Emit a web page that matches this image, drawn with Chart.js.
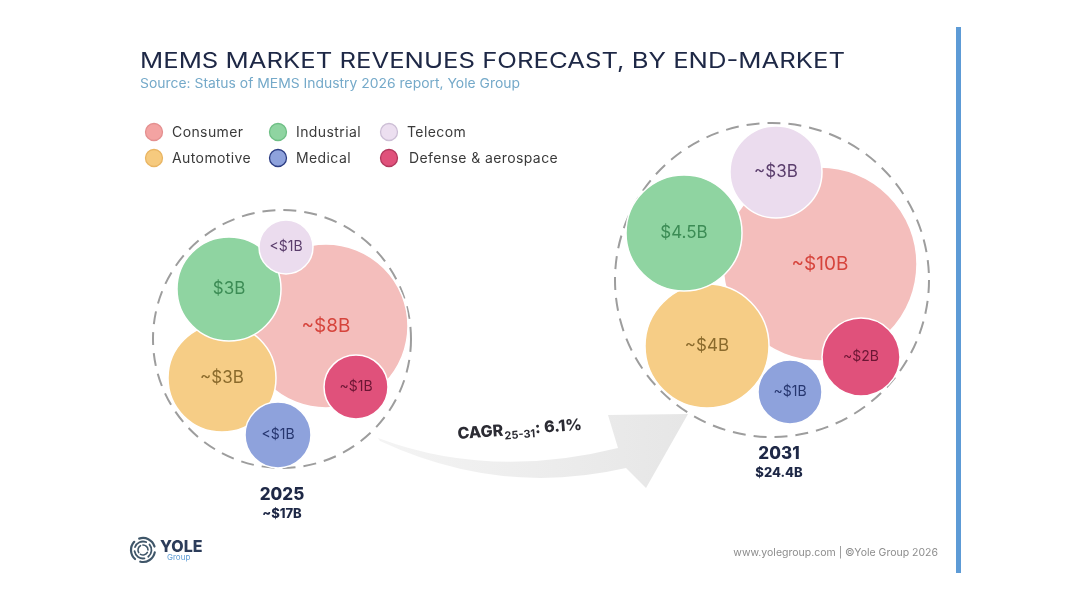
<!DOCTYPE html>
<html>
<head>
<meta charset="utf-8">
<script src="https://cdn.jsdelivr.net/npm/chart.js@4.4.1/dist/chart.umd.min.js"></script>
<style>
    html, body { margin: 0; padding: 0; background: #fff; }
    #wrap { position: relative; width: 1068px; height: 601px; }
</style>
</head>
<body>
<div id="wrap"><canvas id="memsChart" width="1068" height="601"></canvas></div>
<script>
// ---- data ----
const categories = ['Consumer', 'Industrial', 'Telecom', 'Automotive', 'Medical', 'Defense & aerospace'];
const years = ['2025', '2031'];
const values2025 = [8, 3, 0.8, 3, 0.8, 1];      // $B (estimates)
const values2031 = [10, 4.5, 3, 4, 1, 2];       // $B
const labels2025 = ['~$8B', '$3B', '<$1B', '~$3B', '<$1B', '~$1B'];
const labels2031 = ['~$10B', '$4.5B', '~$3B', '~$4B', '~$1B', '~$2B'];
const totals = ['~$17B', '$24.4B'];
const cagrText = '6.1%';

// ---- layout of the packed bubbles (chart units = canvas px) ----
const pack2025 = [[326, 326, 82], [229, 289, 52], [286, 247, 27], [222, 378, 54], [278, 435, 33], [356, 387, 32]];
const pack2031 = [[820, 264, 97], [684, 233, 58], [776, 172, 46], [707, 346, 62], [790, 392, 32], [861, 357, 39]];
const rings = [[282, 339, 129], [772, 280, 157]];
const drawRank = [6, 4, 3, 5, 2, 1]; // consumer at the back

// ---- styles ----
const FONT = 'Inter, "Open Sans", sans-serif';
const bubbleFill = ['#f4bebc', '#8fd4a1', '#ebdcee', '#f6cd86', '#8ea2dc', '#e0517b'];
const labelColor = ['#d6443c', '#3c8c55', '#5a3d6c', '#8a6a2c', '#26366f', '#6b1634'];
const legendFill = ['#f3a3a2', '#8fd4a1', '#ecdff0', '#f6ca7e', '#8ea2dc', '#e0517b'];
const legendBorder = ['#e49090', '#6fbf85', '#cdbfd6', '#e9b563', '#2c3d83', '#b3385d'];

const datasets = categories.map((cat, i) => ({
    label: cat,
    data: [
        { x: pack2025[i][0], y: pack2025[i][1], r: pack2025[i][2], v: values2025[i], t: labels2025[i] },
        { x: pack2031[i][0], y: pack2031[i][1], r: pack2031[i][2], v: values2031[i], t: labels2031[i] }
    ],
    backgroundColor: bubbleFill[i],
    borderColor: '#ffffff',
    borderWidth: 1.5,
    order: drawRank[i],
    clip: false
}));

// stretch text horizontally so it spans the given width (the original face is wider)
function fitText(ctx, text, x, y, width) {
    const w = ctx.measureText(text).width;
    ctx.save();
    ctx.translate(x, y);
    ctx.scale(width / w, 1);
    ctx.fillText(text, 0, 0);
    ctx.restore();
}

const backdrop = {
    id: 'backdrop',
    beforeDatasetsDraw(chart) {
        const { ctx, scales: { x, y } } = chart;
        ctx.save();
        // growth arrow
        const p = (a, b) => [x.getPixelForValue(a), y.getPixelForValue(b)];
        const grad = ctx.createLinearGradient(p(378, 0)[0], 0, p(688, 0)[0], 0);
        grad.addColorStop(0, '#f4f4f4');
        grad.addColorStop(1, '#e6e6e6');
        ctx.fillStyle = grad;
        ctx.beginPath();
        ctx.moveTo(...p(378, 438));
        ctx.quadraticCurveTo(...p(490, 480), ...p(618, 448));
        ctx.lineTo(...p(608, 415));
        ctx.lineTo(...p(688, 414));
        ctx.lineTo(...p(646, 488));
        ctx.lineTo(...p(626, 468));
        ctx.quadraticCurveTo(...p(500, 497), ...p(380, 441));
        ctx.closePath();
        ctx.fill();
        // dashed rings
        ctx.setLineDash([13, 8]);
        ctx.lineWidth = 2;
        ctx.strokeStyle = '#9d9d9d';
        rings.forEach(([cx, cy, r]) => {
            ctx.beginPath();
            ctx.arc(x.getPixelForValue(cx), y.getPixelForValue(cy), r, 0, Math.PI * 2);
            ctx.stroke();
        });
        ctx.restore();
    },
    afterDatasetsDraw(chart) {
        const { ctx } = chart;
        ctx.save();
        ctx.textAlign = 'center';
        ctx.textBaseline = 'middle';
        chart.data.datasets.forEach((ds, i) => {
            chart.getDatasetMeta(i).data.forEach((el, j) => {
                const r = ds.data[j].r;
                const size = r < 40 ? 14 : (r < 70 ? 17 : 19);
                ctx.font = `400 ${size}px ${FONT}`;
                ctx.fillStyle = labelColor[i];
                ctx.fillText(ds.data[j].t, el.x, el.y);
            });
        });
        ctx.restore();
    },
    afterDraw(chart) {
        const { ctx, scales: { x, y } } = chart;
        ctx.save();
        // title + source
        ctx.fillStyle = '#1e2846';
        ctx.font = `400 22px ${FONT}`;
        ctx.textBaseline = 'alphabetic';
        fitText(ctx, 'MEMS MARKET REVENUES FORECAST, BY END-MARKET', 140, 68, 705);
        ctx.fillStyle = '#74a9c9';
        ctx.font = `400 13px ${FONT}`;
        fitText(ctx, 'Source: Status of MEMS Industry 2026 report, Yole Group', 140, 88, 380);

        // legend
        const legCols = [154, 278, 389];
        const legRows = [132, 158];
        ctx.font = `400 14px ${FONT}`;
        ctx.textBaseline = 'middle';
        ctx.letterSpacing = '0.4px';
        categories.forEach((cat, i) => {
            const cx = legCols[i % 3];
            const cy = legRows[Math.floor(i / 3)];
            ctx.beginPath();
            ctx.arc(cx, cy, 8.5, 0, Math.PI * 2);
            ctx.fillStyle = legendFill[i];
            ctx.fill();
            ctx.lineWidth = 1.3;
            ctx.strokeStyle = legendBorder[i];
            ctx.stroke();
            ctx.fillStyle = '#3a3a3a';
            ctx.fillText(cat, cx + 18 + (i === 5 ? 2 : 0), cy + 0.5);
        });
        ctx.letterSpacing = '0px';

        // year totals
        ctx.textAlign = 'center';
        ctx.textBaseline = 'alphabetic';
        const yearPos = [[282, 500], [779, 459]];
        years.forEach((yr, i) => {
            const px = x.getPixelForValue(yearPos[i][0]);
            const py = y.getPixelForValue(yearPos[i][1]);
            ctx.fillStyle = '#1e2846';
            ctx.font = `800 17px ${FONT}`;
            ctx.fillText(yr, px, py);
            ctx.font = `800 13px ${FONT}`;
            ctx.fillText(totals[i], px, py + 18);
        });

        // CAGR label
        ctx.save();
        ctx.translate(458, 439);
        ctx.rotate(-0.075);
        ctx.textAlign = 'left';
        ctx.fillStyle = '#2b2b33';
        ctx.font = `800 16px ${FONT}`;
        ctx.fillText('CAGR', 0, 0);
        let cx = ctx.measureText('CAGR').width;
        ctx.font = `700 11px ${FONT}`;
        ctx.fillText('25-31', cx + 1, 4);
        cx += ctx.measureText('25-31').width + 1;
        ctx.font = `800 16px ${FONT}`;
        ctx.fillText(': ' + cagrText, cx, 0);
        ctx.restore();

        // logo
        ctx.strokeStyle = '#3f5669';
        ctx.lineCap = 'round';
        [[12, 2.2, 0.2], [8.5, 1.8, 1.4], [5, 1.6, 2.6]].forEach(([r, w, off]) => {
            ctx.lineWidth = w;
            for (let k = 0; k < 3; k++) {
                ctx.beginPath();
                const a = off + k * (Math.PI * 2 / 3);
                ctx.arc(143, 550, r, a, a + 1.6);
                ctx.stroke();
            }
        });
        ctx.textAlign = 'left';
        ctx.fillStyle = '#2c3c5a';
        ctx.font = `800 16px ${FONT}`;
        ctx.fillText('YOLE', 160, 552);
        ctx.fillStyle = '#5b9bd5';
        ctx.font = `400 8px ${FONT}`;
        ctx.fillText('Group', 167, 560);

        // footer
        ctx.textAlign = 'right';
        ctx.fillStyle = '#8c8c8c';
        ctx.font = `400 10.5px ${FONT}`;
        ctx.fillText('www.yolegroup.com | \u00A9Yole Group 2026', 938, 556);

        // side rule
        ctx.fillStyle = '#5d9bd6';
        ctx.fillRect(956, 27, 5, 546);
        ctx.restore();
    }
};

new Chart(document.getElementById('memsChart'), {
    type: 'bubble',
    data: { datasets: datasets },
    options: {
        responsive: false,
        devicePixelRatio: 1,
        animation: false,
        events: [],
        layout: { padding: 0, autoPadding: false },
        scales: {
            x: { type: 'linear', min: 0, max: 1068, display: false },
            y: { type: 'linear', min: 0, max: 601, reverse: true, display: false }
        },
        plugins: {
            legend: { display: false },
            tooltip: { enabled: false }
        }
    },
    plugins: [backdrop]
});
</script>
</body>
</html>
